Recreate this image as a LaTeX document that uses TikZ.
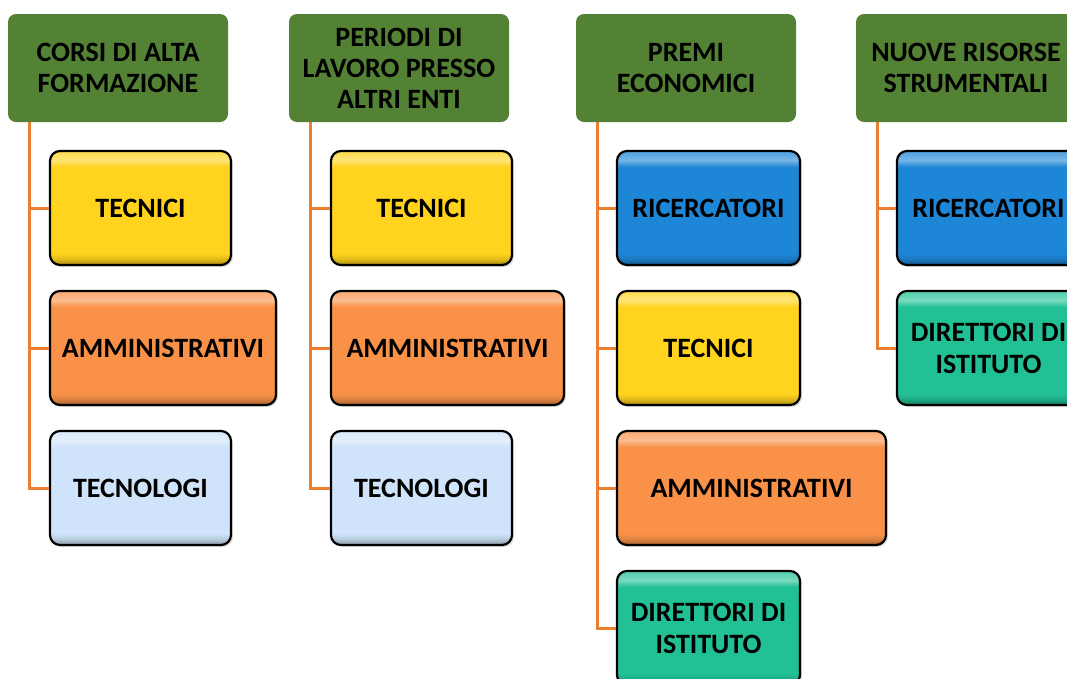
\documentclass[tikz,border=0pt]{standalone}
\usepackage{fontspec}
\setmainfont{Carlito}
\usetikzlibrary{shadows}
\definecolor{hdrgreen}{RGB}{84,130,53}
\definecolor{connor}{RGB}{237,125,49}
\definecolor{kyel}{RGB}{255,211,30}
\definecolor{korg}{RGB}{249,146,72}
\definecolor{klblue}{RGB}{207,228,250}
\definecolor{kblue}{RGB}{30,134,214}
\definecolor{kteal}{RGB}{34,193,149}
\colorlet{basecol}{kyel}
\pgfdeclareverticalshading[basecol]{bevel}{100bp}{color(0bp)=(basecol!65!black); color(25bp)=(basecol!65!black); color(27.5bp)=(basecol!88!black); color(30bp)=(basecol); color(68bp)=(basecol); color(71bp)=(basecol!60!white); color(74bp)=(basecol!75!white); color(75bp)=(basecol!75!white); color(100bp)=(basecol!75!white)}
\tikzset{
  hdr/.style={fill=hdrgreen, rounded corners=8pt, minimum width=220pt, minimum height=108pt,
    inner sep=0pt, align=center, font=\fontsize{28}{31}\selectfont\bfseries},
  kid/.style={/utils/exec={\colorlet{basecol}{#1}}, shading=bevel, draw=black, line width=2.2pt,
    rounded corners=10pt, minimum height=114pt, inner sep=0pt, align=center,
    font=\fontsize{28}{32}\selectfont\bfseries,
    drop shadow={opacity=0.25, shadow xshift=2pt, shadow yshift=-2pt}},
  conn/.style={draw=connor, line width=3pt}
}
\begin{document}
\begin{tikzpicture}[x=1pt,y=-1pt]
\useasboundingbox (0,0) rectangle (1067,678);
\clip (0,0) rectangle (1067,678);
% headers
\node[hdr] (h1) at (118,68) {CORSI DI ALTA\\FORMAZIONE};
\node[hdr] (h2) at (399,68) {PERIODI DI\\LAVORO PRESSO\\ALTRI ENTI};
\node[hdr] (h3) at (686,68) {PREMI\\ECONOMICI};
\node[hdr] (h4) at (966,68) {NUOVE RISORSE\\STRUMENTALI};
% trunk start points
\coordinate (t1) at (29,122);
\coordinate (t2) at (310,122);
\coordinate (t3) at (597,122);
\coordinate (t4) at (877,122);
% column 1
\node[kid=kyel, minimum width=181pt] (a1) at (140.5,208) {TECNICI};
\node[kid=korg, minimum width=226pt] (a2) at (163,348) {AMMINISTRATIVI};
\node[kid=klblue, minimum width=181pt] (a3) at (140.5,488) {TECNOLOGI};
% column 2
\node[kid=kyel, minimum width=181pt] (b1) at (421.5,208) {TECNICI};
\node[kid=korg, minimum width=233pt] (b2) at (447.5,348) {AMMINISTRATIVI};
\node[kid=klblue, minimum width=181pt] (b3) at (421.5,488) {TECNOLOGI};
% column 3
\node[kid=kblue, minimum width=183pt] (c1) at (708.5,208) {RICERCATORI};
\node[kid=kyel, minimum width=183pt] (c2) at (708.5,348) {TECNICI};
\node[kid=korg, minimum width=269pt] (c3) at (751.5,488) {AMMINISTRATIVI};
\node[kid=kteal, minimum width=183pt] (c4) at (708.5,628) {DIRETTORI DI\\ISTITUTO};
% column 4
\node[kid=kblue, minimum width=183pt] (d1) at (988.5,208) {RICERCATORI};
\node[kid=kteal, minimum width=183pt] (d2) at (988.5,348) {DIRETTORI DI\\ISTITUTO};
% connectors
\draw[conn] (t1) |- (a1.west);
\draw[conn] (t1) |- (a2.west);
\draw[conn] (t1) |- (a3.west);
\draw[conn] (t2) |- (b1.west);
\draw[conn] (t2) |- (b2.west);
\draw[conn] (t2) |- (b3.west);
\draw[conn] (t3) |- (c1.west);
\draw[conn] (t3) |- (c2.west);
\draw[conn] (t3) |- (c3.west);
\draw[conn] (t3) |- (c4.west);
\draw[conn] (t4) |- (d1.west);
\draw[conn] (t4) |- (d2.west);
\end{tikzpicture}
\end{document}
